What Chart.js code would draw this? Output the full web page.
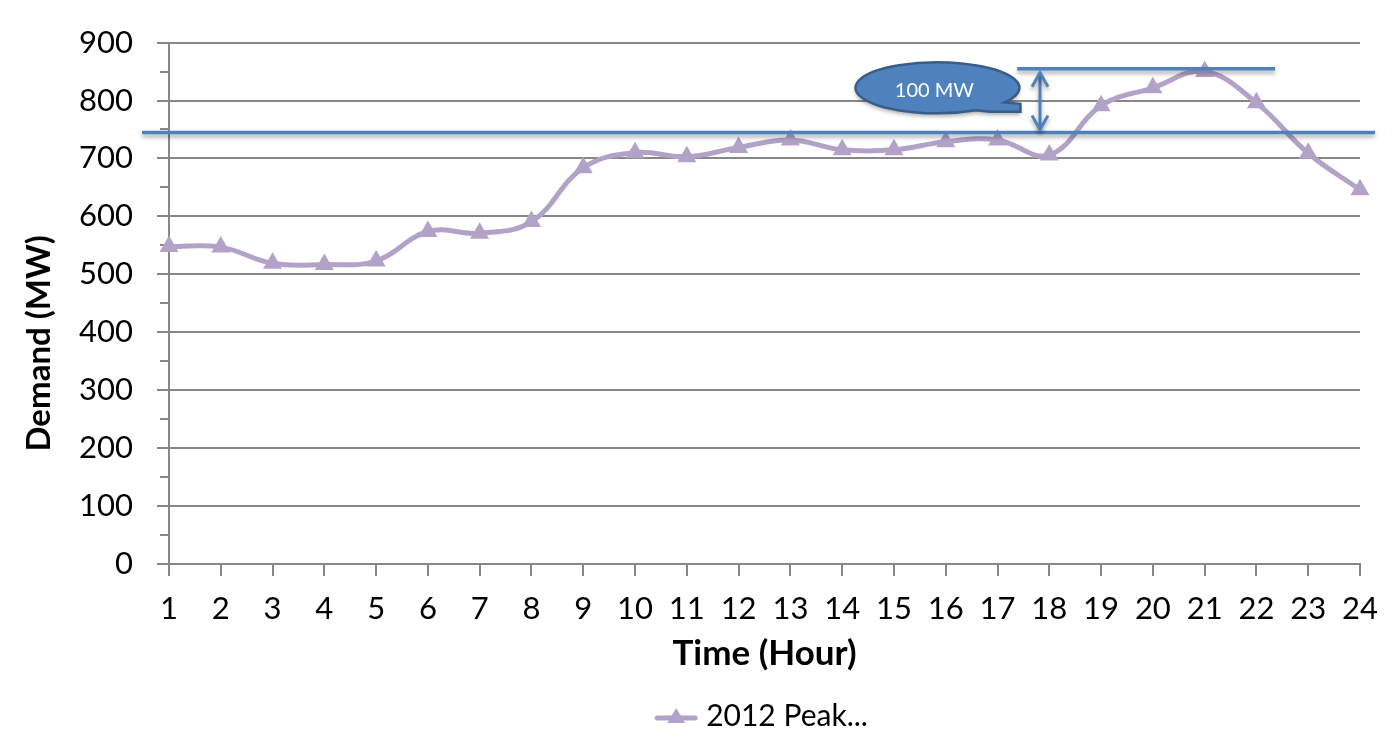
<!DOCTYPE html>
<html>
<head>
<meta charset="utf-8">
<script src="https://cdn.jsdelivr.net/npm/chart.js@4"></script>
<style>
  html, body { margin: 0; padding: 0; background: #fff; }
  #wrap { width: 1400px; height: 742px; }
</style>
</head>
<body>
<div id="wrap"><canvas id="myChart" width="1400" height="742"></canvas></div>
<script>
// данные графика
const hours = ["1","2","3","4","5","6","7","8","9","10","11","12","13","14","15","16","17","18","19","20","21","22","23","24"];
const demand2012 = [548, 547, 519, 517, 523, 574, 571, 591, 684, 710, 703, 719, 732, 715, 715, 729, 732, 706, 791, 822, 850, 796, 709, 646];
const yTicks = [0, 100, 200, 300, 400, 500, 600, 700, 800, 900];
const minorTicks = [50, 150, 250, 350, 450, 550, 650, 750, 850];

// линии и выноска
const baseLevel = 745;
const peakLevel = 855;
const peakLineFrom = 16.38; // индексы категорий
const peakLineTo = 21.36;
const arrowAt = 16.82;
const calloutAt = 14.84;
const calloutLevel = 822;
const calloutText = "100 MW";

const FONT = "Lato";
const lineColor = "#B3A2C7";
const blue = "#4F81BD";
const gridColor = "#878787";

// маркер для легенды: линия + треугольник
function legendMarker() {
  const c = document.createElement("canvas");
  c.width = 44; c.height = 22;
  const g = c.getContext("2d");
  g.strokeStyle = lineColor;
  g.lineWidth = 5;
  g.lineCap = "round";
  g.beginPath(); g.moveTo(3, 13); g.lineTo(41, 13); g.stroke();
  g.fillStyle = lineColor;
  g.beginPath(); g.moveTo(22, 3); g.lineTo(31, 18); g.lineTo(13, 18); g.closePath(); g.fill();
  return c;
}

// плагин: малые деления, сдвиг легенды и аннотации
const extras = {
  id: "extras",
  afterLayout(chart) {
    const lg = chart.legend, ca = chart.chartArea;
    const dx = (ca.left + ca.right) / 2 - (lg.left + lg.right) / 2;
    lg.left += dx; lg.right += dx;
  },
  beforeDatasetsDraw(chart) {
    const {ctx, scales: {y}} = chart;
    ctx.save();
    ctx.strokeStyle = gridColor;
    ctx.lineWidth = 2;
    minorTicks.forEach(v => {
      const py = Math.round(y.getPixelForValue(v));
      ctx.beginPath(); ctx.moveTo(y.right - 9, py); ctx.lineTo(y.right, py); ctx.stroke();
    });
    ctx.restore();
  },
  afterDatasetsDraw(chart) {
    const {ctx, chartArea, scales: {x, y}} = chart;
    ctx.save();
    ctx.shadowColor = "rgba(0,0,0,0.35)";
    ctx.shadowBlur = 4;
    ctx.shadowOffsetY = 3;
    ctx.strokeStyle = blue;
    ctx.lineWidth = 3.5;

    const by = y.getPixelForValue(baseLevel);
    ctx.beginPath(); ctx.moveTo(chartArea.left - 27, by); ctx.lineTo(chartArea.right + 15, by); ctx.stroke();

    const py = y.getPixelForValue(peakLevel);
    ctx.beginPath(); ctx.moveTo(x.getPixelForValue(peakLineFrom), py); ctx.lineTo(x.getPixelForValue(peakLineTo), py); ctx.stroke();

    // двойная стрелка
    const ax = x.getPixelForValue(arrowAt);
    const t = py + 4, b = by - 3;
    ctx.lineWidth = 3;
    ctx.beginPath(); ctx.moveTo(ax, t); ctx.lineTo(ax, b); ctx.stroke();
    ctx.beginPath();
    ctx.moveTo(ax - 8, t + 14); ctx.lineTo(ax, t); ctx.lineTo(ax + 8, t + 14);
    ctx.moveTo(ax - 8, b - 14); ctx.lineTo(ax, b); ctx.lineTo(ax + 8, b - 14);
    ctx.stroke();

    // выноска-эллипс
    const cx = x.getPixelForValue(calloutAt);
    const cy = y.getPixelForValue(calloutLevel);
    const rx = 82, ry = 25.5;
    const a1 = 35 * Math.PI / 180, a2 = 62 * Math.PI / 180;
    ctx.beginPath();
    ctx.ellipse(cx, cy, rx, ry, 0, a2, a1 + Math.PI * 2);
    ctx.lineTo(cx + rx + 1, cy + 16);
    ctx.lineTo(cx + rx + 1, cy + 24);
    ctx.lineTo(cx + rx * Math.cos(a2) + 14, cy + 24);
    ctx.closePath();
    ctx.fillStyle = blue;
    ctx.fill();
    ctx.shadowColor = "transparent";
    ctx.strokeStyle = "#385D8A";
    ctx.lineWidth = 2.5;
    ctx.stroke();
    ctx.fillStyle = "#fff";
    ctx.font = "20px " + FONT;
    ctx.textAlign = "center";
    ctx.textBaseline = "middle";
    ctx.fillText(calloutText, cx - 3, cy + 3);
    ctx.restore();
  }
};

const config = {
  type: "line",
  data: {
    labels: hours,
    datasets: [{
      label: "2012 Peak...",
      data: demand2012,
      borderColor: lineColor,
      backgroundColor: lineColor,
      borderWidth: 5,
      tension: 0.4,
      pointStyle: "triangle",
      pointRadius: 11,
      pointBorderWidth: 0,
      pointBackgroundColor: lineColor,
      fill: false
    }]
  },
  options: {
    responsive: false,
    animation: false,
    layout: { padding: { top: 42, right: 40, bottom: 1, left: 0 } },
    plugins: {
      tooltip: { enabled: false },
      legend: {
        position: "bottom",
        labels: {
          usePointStyle: true,
          pointStyle: legendMarker(),
          pointStyleWidth: 30,
          padding: 21,
          color: "#000",
          font: { family: FONT, size: 30 }
        }
      }
    },
    scales: {
      x: {
        offset: false,
        grid: { drawOnChartArea: false, drawTicks: true, tickLength: 12, color: gridColor, lineWidth: 2 },
        border: { color: gridColor, width: 2 },
        ticks: { color: "#000", padding: 14, maxRotation: 0, autoSkip: false, font: { family: FONT, size: 31 } },
        title: { display: true, text: "Time (Hour)", color: "#000", padding: { top: 0, bottom: 5 }, font: { family: FONT, size: 35, weight: "bold" } },
        afterFit(s) { s.height = 116; }
      },
      y: {
        min: 0, max: 900,
        afterBuildTicks(s) { s.ticks = yTicks.map(v => ({ value: v })); },
        grid: { color: gridColor, lineWidth: 2, tickLength: 12 },
        border: { color: gridColor, width: 2 },
        ticks: { color: "#000", padding: 24, font: { family: FONT, size: 31 } },
        // пробелы в конце сдвигают подпись вниз, как в исходнике
        title: { display: true, text: "Demand (MW)          ", color: "#000", padding: { top: 20, bottom: 0 }, font: { family: FONT, size: 33, weight: "bold" } },
        afterFit(s) { s.width = 169; }
      }
    }
  },
  plugins: [extras]
};

new Chart(document.getElementById("myChart").getContext("2d"), config);
</script>
</body>
</html>
